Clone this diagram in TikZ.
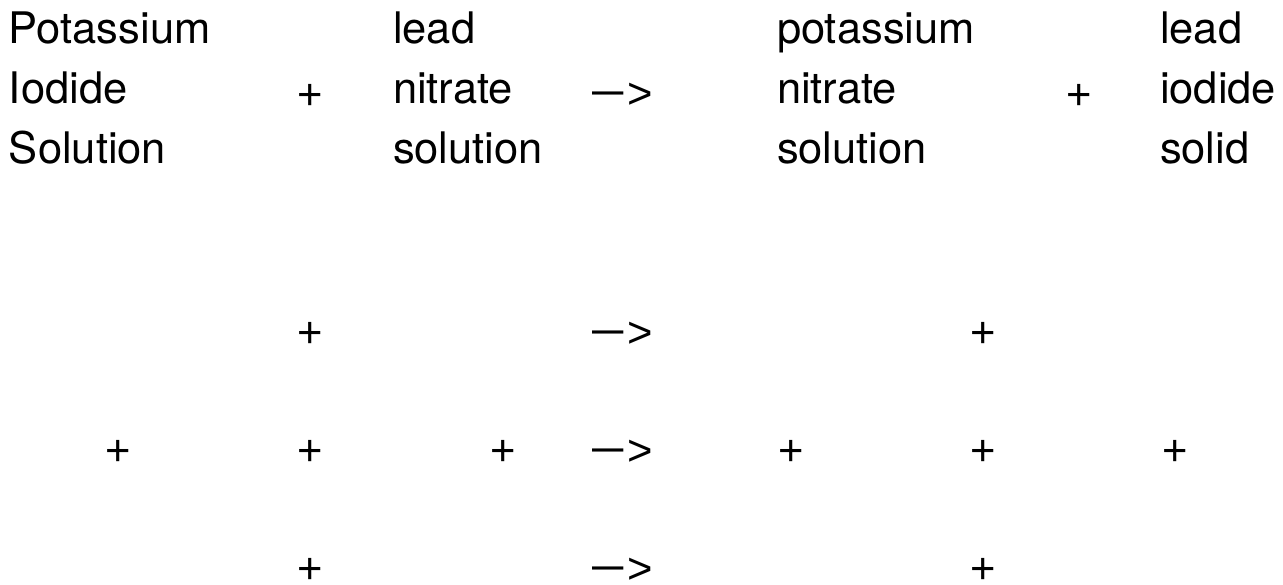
\documentclass[tikz,border=0pt]{standalone}
\usepackage{fontspec}
\setmainfont{TeX Gyre Heros}
\newfontfamily\symfont{Liberation Sans}
\usepackage{graphicx}
% "yields" sign: a narrowed em dash, raised to the middle of a greater-than sign
\newcommand{\yieldsign}{\raisebox{3.4pt}{\scalebox{0.72}[1]{—}}\kern4.5pt{\symfont>}}
\newcommand{\plusglyph}{{\symfont+}}
\begin{document}
\begin{tikzpicture}[x=1pt,y=-1pt,
  every node/.style={inner sep=0pt, outer sep=0pt, font=\fontsize{43.5}{60}\selectfont},
  word/.style={anchor=base west},
  plussign/.style={anchor=base, text depth=0pt},
  yields/.style={anchor=base west, text depth=0pt}]
\useasboundingbox (0,0) rectangle (1283,584);

% word equation
\node[word] (r1a) at (9,43)  {Potassium};
\node[word] (r1b) at (9,103) {Iodide};
\node[word] (r1c) at (9,163) {Solution};
\node[plussign] (pA) at (310,109.4) {\plusglyph};
\node[word] (r2a) at (393,43)  {lead};
\node[word] (r2b) at (393,103) {nitrate};
\node[word] (r2c) at (393,163) {solution};
\node[yields] (yA) at (592,108.4) {\yieldsign};
\node[word] (q1a) at (777,43)  {potassium};
\node[word] (q1b) at (777,103) {nitrate};
\node[word] (q1c) at (777,163) {solution};
\node[plussign] (pB) at (1079,109.4) {\plusglyph};
\node[word] (q2a) at (1160,43)  {lead};
\node[word] (q2b) at (1160,103) {iodide};
\node[word] (q2c) at (1160,163) {solid};

% symbol equation rows
\node[plussign] (s1p1) at (310,347.4) {\plusglyph};
\node[yields]   (s1y)  at (592,347.4) {\yieldsign};
\node[plussign] (s1p2) at (983,347.4) {\plusglyph};

\node[plussign] (s2p1) at (118,465.4) {\plusglyph};
\node[plussign] (s2p2) at (310,465.4) {\plusglyph};
\node[plussign] (s2p3) at (503,465.4) {\plusglyph};
\node[yields]   (s2y)  at (592,465.4) {\yieldsign};
\node[plussign] (s2p4) at (791,465.4) {\plusglyph};
\node[plussign] (s2p5) at (983,465.4) {\plusglyph};
\node[plussign] (s2p6) at (1175,465.4) {\plusglyph};

\node[plussign] (s3p1) at (310,583.4) {\plusglyph};
\node[yields]   (s3y)  at (592,583.4) {\yieldsign};
\node[plussign] (s3p2) at (983,583.4) {\plusglyph};
\end{tikzpicture}
\end{document}
